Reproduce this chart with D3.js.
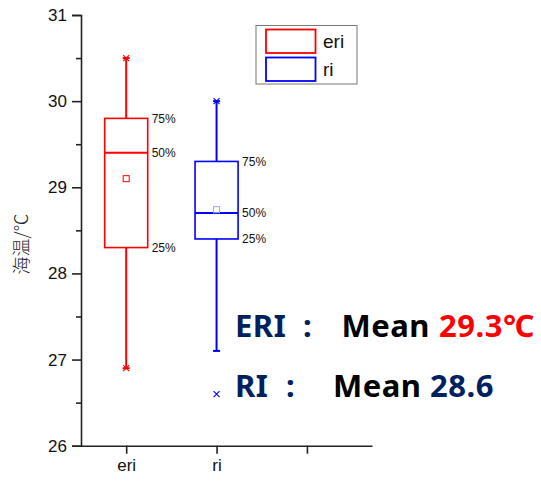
<!DOCTYPE html>
<html><head><meta charset="utf-8">
<script src="https://cdn.jsdelivr.net/npm/d3@7"></script>
<style>body{margin:0;background:#fff}svg{display:block}</style>
</head><body>
<svg id="c" width="541" height="481"></svg>
<script>
const categories = ["eri", "ri"];
const q1 = [28.3, 28.4];
const medians = [29.4, 28.7];
const q3 = [29.8, 29.3];
const whiskerLow = [26.9, 27.1];
const whiskerHigh = [30.5, 30.0];
const means = [29.1, 28.74];
const extremeMarks = [[26.9, 30.5], [26.6, 30.0]];
const seriesColors = ["#ff0000", "#0000ff"];
const meanColors = ["#ff0000", "#a0a0ff"];
const yTicks = [26, 27, 28, 29, 30, 31];
const yMinorTicks = [26.5, 27.5, 28.5, 29.5, 30.5];
const xTickLabels = ["eri", "ri", ""];
const pctLabels = ["25%", "50%", "75%"];
const yTitle = "海温/℃";
const noteRows = [
  {name: "ERI", value: "29.3℃", valueColor: "#ff0000"},
  {name: "RI", value: "28.6", valueColor: "#002060"}
];

const svg = d3.select("#c");
const x = d3.scaleLinear().domain([0.5, 3.72]).range([81, 372]);
const y = d3.scaleLinear().domain([26, 31]).range([445.7, 15]);
const boxW = 0.476;
const axisColor = "#222";

// Boxes
categories.forEach((c, i) => {
  const g = svg.append("g");
  const col = seriesColors[i];
  const cx = x(i + 1);
  const x0 = x(i + 1 - boxW / 2), x1 = x(i + 1 + boxW / 2);
  g.append("line").attr("x1", cx).attr("x2", cx).attr("y1", y(q3[i])).attr("y2", y(whiskerHigh[i]))
    .attr("stroke", col).attr("stroke-width", 2);
  g.append("line").attr("x1", cx).attr("x2", cx).attr("y1", y(q1[i])).attr("y2", y(whiskerLow[i]))
    .attr("stroke", col).attr("stroke-width", 2);
  [whiskerLow[i], whiskerHigh[i]].forEach(v => {
    g.append("line").attr("x1", cx - 3.5).attr("x2", cx + 3.5).attr("y1", y(v)).attr("y2", y(v))
      .attr("stroke", col).attr("stroke-width", 2);
  });
  g.append("rect").attr("x", x0).attr("y", y(q3[i])).attr("width", x1 - x0).attr("height", y(q1[i]) - y(q3[i]))
    .attr("fill", "none").attr("stroke", col).attr("stroke-width", 1.6);
  g.append("line").attr("x1", x0).attr("x2", x1).attr("y1", y(medians[i])).attr("y2", y(medians[i]))
    .attr("stroke", col).attr("stroke-width", 2);
  g.append("rect").attr("x", cx - 3).attr("y", y(means[i]) - 3).attr("width", 6).attr("height", 6)
    .attr("fill", "none").attr("stroke", meanColors[i]).attr("stroke-width", 1);
  extremeMarks[i].forEach(v => {
    const yy = y(v);
    g.append("path").attr("d", `M${cx-3},${yy-3}L${cx+3},${yy+3}M${cx-3},${yy+3}L${cx+3},${yy-3}`)
      .attr("stroke", col).attr("stroke-width", 1.1).attr("fill", "none");
  });
  [q1[i], medians[i], q3[i]].forEach((v, k) => {
    g.append("text").attr("x", x1 + 4).attr("y", y(v)).attr("dy", "0.36em")
      .attr("font-family", "Liberation Sans, Arial, sans-serif").attr("font-size", 12)
      .attr("fill", "#111").text(pctLabels[k]);
  });
});

// Y axis
const yAxis = svg.append("g").attr("transform", "translate(81,0)")
  .call(d3.axisLeft(y).tickValues(yTicks).tickSize(9).tickPadding(5).tickFormat(d3.format("d")));
yAxis.selectAll("text").attr("font-family", "Liberation Sans, Arial, sans-serif").attr("font-size", 17).attr("fill", "#111");
yAxis.select(".domain").attr("stroke", axisColor).attr("stroke-width", 1.6);
yAxis.selectAll(".tick line").attr("stroke", axisColor).attr("stroke-width", 1.6);
const yMinor = svg.append("g").attr("transform", "translate(81,0)")
  .call(d3.axisLeft(y).tickValues(yMinorTicks).tickSize(5).tickFormat(""));
yMinor.select(".domain").remove();
yMinor.selectAll(".tick line").attr("stroke", axisColor).attr("stroke-width", 1.6);

// X axis
const xAxis = svg.append("g").attr("transform", `translate(0,${y(26)})`)
  .call(d3.axisBottom(x).tickValues([1, 2, 3]).tickSize(8).tickPadding(5).tickSizeOuter(0)
    .tickFormat((d, i) => xTickLabels[i]));
xAxis.selectAll("text").attr("font-family", "Liberation Sans, Arial, sans-serif").attr("font-size", 17).attr("fill", "#111");
xAxis.select(".domain").attr("stroke", axisColor).attr("stroke-width", 1.6);
xAxis.selectAll(".tick line").attr("stroke", axisColor).attr("stroke-width", 1.6);

// Y title
svg.append("text").attr("transform", "translate(28,244) rotate(-90)").attr("text-anchor", "middle")
  .attr("font-family", "Noto Sans CJK SC, sans-serif").attr("font-weight", 300).attr("font-size", 18)
  .attr("fill", "#222").text(yTitle);

// Legend
const lg = svg.append("g");
lg.append("rect").attr("x", 256).attr("y", 25.5).attr("width", 101).attr("height", 58.5)
  .attr("fill", "#fff").attr("stroke", "#777").attr("stroke-width", 1);
categories.forEach((c, i) => {
  const yy = 29.5 + i * 28;
  lg.append("rect").attr("x", 266).attr("y", yy).attr("width", 49.5).attr("height", 23.5)
    .attr("fill", "none").attr("stroke", seriesColors[i]).attr("stroke-width", 1.8);
  lg.append("text").attr("x", 323).attr("y", yy + 12).attr("dy", "0.36em")
    .attr("font-family", "Liberation Sans, Arial, sans-serif").attr("font-size", 19).attr("fill", "#111").text(c);
});

// Notes
const noteX = [[235, 303, 341.5, 439], [235, 286, 333, 430]];
const noteY = [336.5, 396.5];
noteRows.forEach((r, i) => {
  const t = svg.append("g").attr("font-family", "Noto Sans, Open Sans, sans-serif").attr("font-weight", 700)
    .attr("font-size", 31).attr("letter-spacing", 0.5);
  t.append("text").attr("x", noteX[i][0]).attr("y", noteY[i]).attr("fill", "#002060").text(r.name);
  t.append("text").attr("x", noteX[i][1]).attr("y", noteY[i]).attr("fill", "#002060").text(":");
  t.append("text").attr("x", noteX[i][2]).attr("y", noteY[i]).attr("fill", "#000").text("Mean");
  t.append("text").attr("x", noteX[i][3]).attr("y", noteY[i]).attr("fill", r.valueColor).text(r.value);
});
</script>
</body></html>
